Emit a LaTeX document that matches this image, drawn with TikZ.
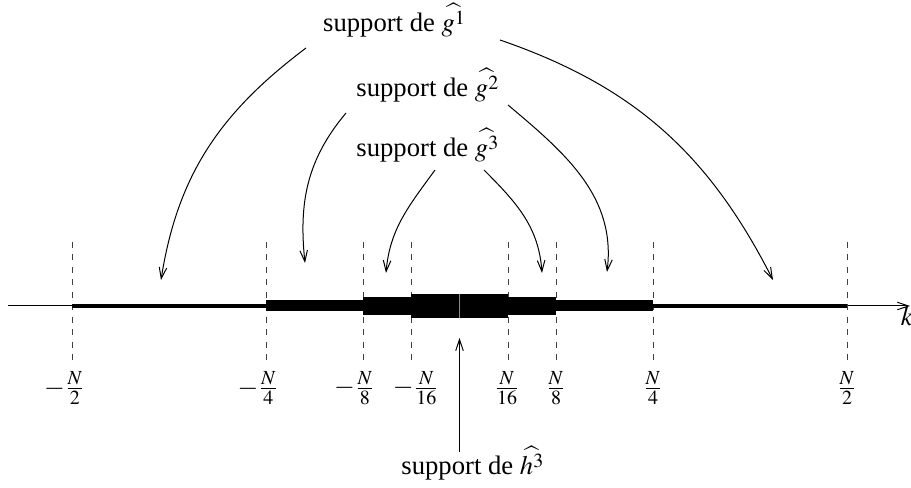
\documentclass[tikz,border=0pt]{standalone}
\usepackage{mathptmx}
\usepackage{fontspec}
\setmainfont{Liberation Serif}
\usetikzlibrary{arrows.meta}
\tikzset{
  lbl/.style={inner sep=0pt, anchor=base west, font=\fontsize{12}{14}\selectfont},
  frac/.style={inner sep=0pt, font=\fontsize{12}{14}\selectfont},
  guide/.style={dashed, dash pattern=on 2.7pt off 2.9pt, line width=0.45pt, black!75},
  ptr/.style={line width=0.45pt, -{Straight Barb[length=5pt,width=3.4pt]}},
  bar/.style={fill=black, draw=none}
}
\begin{document}
\begin{tikzpicture}[x=0.45pt,y=0.45pt]
\useasboundingbox (0,0) rectangle (911,488);
% axis
\coordinate (ax0) at (8,182);
\coordinate (ax1) at (910,182);
\draw[ptr] (ax0) -- (ax1);
\node[frac] (k) at (907,172) {$k$};
% dashed guides
\foreach \x/\n in {72/a,266/b,363/c,411/d,508/e,556/f,653/g,847/h}{
  \coordinate (t\n) at (\x,246);
  \coordinate (b\n) at (\x,124);
  \draw[guide] (t\n) -- (b\n);
}
% bars
\fill[bar] (72,179.7) rectangle (847,184.3);
\fill[bar] (266,176.5) rectangle (653,187.5);
\fill[bar] (363,173) rectangle (556,191);
\fill[bar] (411,170) rectangle (508,194);
\draw[black!45, line width=0.4pt] (459.5,170) -- (459.5,194);
% fraction labels
\node[frac] (la) at (64.5,100) {$-\frac{N}{2}$};
\node[frac] (lb) at (258,100) {$-\frac{N}{4}$};
\node[frac] (lc) at (354.5,100) {$-\frac{N}{8}$};
\node[frac] (ld) at (416,100) {$-\frac{N}{16}$};
\node[frac] (le) at (507,100) {$\frac{N}{16}$};
\node[frac] (lf) at (556,100) {$\frac{N}{8}$};
\node[frac] (lg) at (653,100) {$\frac{N}{4}$};
\node[frac] (lh) at (847,100) {$\frac{N}{2}$};
% text labels
\node[lbl] (g1) at (322.7,456) {support de $\widehat{g^1}$};
\node[lbl] (g2) at (356,391) {support de $\widehat{g^2}$};
\node[lbl] (g3) at (356,331) {support de $\widehat{g^3}$};
\node[lbl] (h3) at (401,13) {support de $\widehat{h^3}$};
% arrow ends
\coordinate (s1) at (306,440); \coordinate (e1) at (161,208);
\coordinate (s2) at (500,448); \coordinate (e2) at (773,208);
\coordinate (s3) at (346,375); \coordinate (e3) at (305,225);
\coordinate (s4) at (508,383); \coordinate (e4) at (607,216);
\coordinate (s5) at (435,318); \coordinate (e5) at (386,215);
\coordinate (s6) at (484,318); \coordinate (e6) at (542,215);
\coordinate (s7) at (459.5,36); \coordinate (e7) at (459.5,150);
\draw[ptr] (s1) to[out=217,in=81] (e1);
\draw[ptr] (s2) to[out=-19,in=117] (e2);
\draw[ptr] (s3) to[out=230,in=96] (e3);
\draw[ptr] (s4) to[out=-40,in=83] (e4);
\draw[ptr] (s5) to[out=234,in=85] (e5);
\draw[ptr] (s6) to[out=-45,in=94] (e6);
\draw[ptr] (s7) -- (e7);
\end{tikzpicture}
\end{document}
